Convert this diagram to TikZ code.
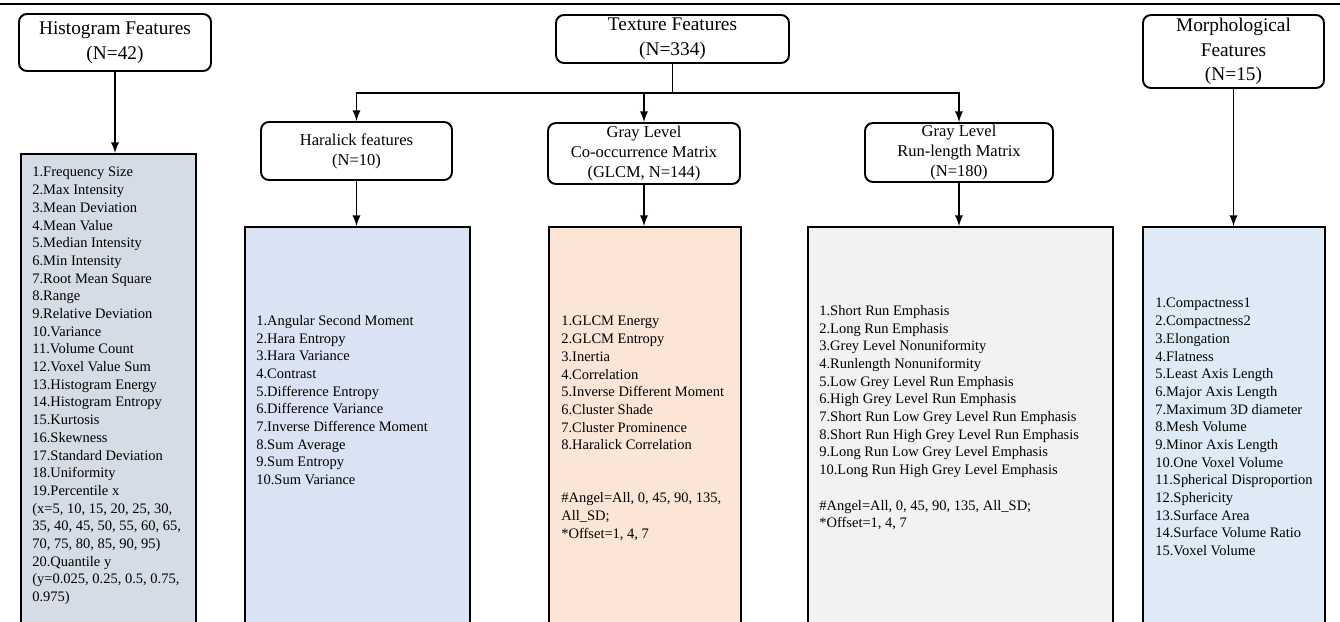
\documentclass[tikz,border=0pt]{standalone}
\usepackage{fontspec}
\setmainfont{Liberation Serif}
\usetikzlibrary{arrows,positioning}

\definecolor{histfill}{HTML}{D6DCE5}
\definecolor{harafill}{HTML}{DAE3F3}
\definecolor{glcmfill}{HTML}{FBE5D6}
\definecolor{rlmfill}{HTML}{F2F2F2}
\definecolor{morphfill}{HTML}{DEEBF7}

\begin{document}
\begin{tikzpicture}[x=0.02cm,y=-0.02cm,
  head/.style={draw,rounded corners=4.5pt,line width=1.1pt,align=center,inner sep=0pt,font=\fontsize{11}{14}\selectfont},
  subhead/.style={head,font=\fontsize{9.4}{11.4}\selectfont},
  listbox/.style={draw,line width=1.1pt,anchor=north,inner sep=0pt,minimum height=10cm},
  listtext/.style={anchor=north west,align=left,inner sep=0pt,font=\fontsize{8.25}{10.07}\selectfont},
  arr/.style={line width=1.1pt,-latex}]

\useasboundingbox (0,0) rectangle (1340,622);
\clip (0,0) rectangle (1340,622);
\draw[line width=1.4pt] (0,4)--(1340,4);

\node[head,minimum width=3.84cm,minimum height=1.14cm] (hist) at (115,42.5) {Histogram Features\\(N=42)};
\node[head,minimum width=4.66cm,minimum height=0.96cm] (tex) at (672.5,39) {Texture Features\\(N=334)};
\node[head,minimum width=3.62cm,minimum height=1.46cm] (morph) at (1233.5,51.5) {Morphological\\Features\\(N=15)};

\node[subhead,minimum width=3.82cm,minimum height=1.16cm] (hara) at (356.5,151) {Haralick features\\(N=10)};
\node[subhead,minimum width=3.84cm,minimum height=1.22cm] (glcm) at (644,153.5) {Gray Level\\Co-occurrence Matrix\\(GLCM, N=144)};
\node[subhead,minimum width=3.76cm,minimum height=1.18cm] (rlm) at (959,152.5) {Gray Level\\Run-length Matrix\\(N=180)};

\node[listbox,fill=histfill,minimum width=3.5cm] (histlist) at (108.5,153) {};
\node[listbox,fill=harafill,minimum width=4.5cm] (haralist) at (357.5,226) {};
\node[listbox,fill=glcmfill,minimum width=3.84cm] (glcmlist) at (645,226) {};
\node[listbox,fill=rlmfill,minimum width=6.1cm] (rlmlist) at (960.5,226) {};
\node[listbox,fill=morphfill,minimum width=3.64cm] (morphlist) at (1234,226) {};

\node[listtext] (histtext) at (32,167) {1.Frequency Size\\2.Max Intensity\\3.Mean Deviation\\4.Mean Value\\5.Median Intensity\\6.Min Intensity\\7.Root Mean Square\\8.Range\\9.Relative Deviation\\10.Variance\\11.Volume Count\\12.Voxel Value Sum\\13.Histogram Energy\\14.Histogram Entropy\\15.Kurtosis\\16.Skewness\\17.Standard Deviation\\18.Uniformity\\19.Percentile x\\(x=5, 10, 15, 20, 25, 30,\\35, 40, 45, 50, 55, 60, 65,\\70, 75, 80, 85, 90, 95)\\20.Quantile y\\(y=0.025, 0.25, 0.5, 0.75,\\0.975)};
\node[listtext] (haratext) at (256,315) {1.Angular Second Moment\\2.Hara Entropy\\3.Hara Variance\\4.Contrast\\5.Difference Entropy\\6.Difference Variance\\7.Inverse Difference Moment\\8.Sum Average\\9.Sum Entropy\\10.Sum Variance};
\node[listtext] (glcmtext) at (561,316) {1.GLCM Energy\\2.GLCM Entropy\\3.Inertia\\4.Correlation\\5.Inverse Different Moment\\6.Cluster Shade\\7.Cluster Prominence\\8.Haralick Correlation\\[20.14pt]\#Angel=All, 0, 45, 90, 135,\\All\_SD;\\*Offset=1, 4, 7};
\node[listtext] (rlmtext) at (819,305) {1.Short Run Emphasis\\2.Long Run Emphasis\\3.Grey Level Nonuniformity\\4.Runlength Nonuniformity\\5.Low Grey Level Run Emphasis\\6.High Grey Level Run Emphasis\\7.Short Run Low Grey Level Run Emphasis\\8.Short Run High Grey Level Run Emphasis\\9.Long Run Low Grey Level Emphasis\\10.Long Run High Grey Level Emphasis\\[10.07pt]\#Angel=All, 0, 45, 90, 135, All\_SD;\\*Offset=1, 4, 7};
\node[listtext] (morphtext) at (1155,298) {1.Compactness1\\2.Compactness2\\3.Elongation\\4.Flatness\\5.Least Axis Length\\6.Major Axis Length\\7.Maximum 3D diameter\\8.Mesh Volume\\9.Minor Axis Length\\10.One Voxel Volume\\11.Spherical Disproportion\\12.Sphericity\\13.Surface Area\\14.Surface Volume Ratio\\15.Voxel Volume};

\coordinate (branch) at (672.5,93);
\draw[line width=1.1pt] (tex.south)--(branch);
\draw[arr] (branch) -| (hara.north);
\draw[arr] (branch) -| (rlm.north);
\draw[arr] (glcm.north |- branch)--(glcm.north);

\draw[arr] (hist.south)--(hist.south |- histlist.north);
\draw[arr] (hara.south)--(hara.south |- haralist.north);
\draw[arr] (glcm.south)--(glcm.south |- glcmlist.north);
\draw[arr] (rlm.south)--(rlm.south |- rlmlist.north);
\draw[arr] (morph.south)--(morph.south |- morphlist.north);
\end{tikzpicture}
\end{document}
